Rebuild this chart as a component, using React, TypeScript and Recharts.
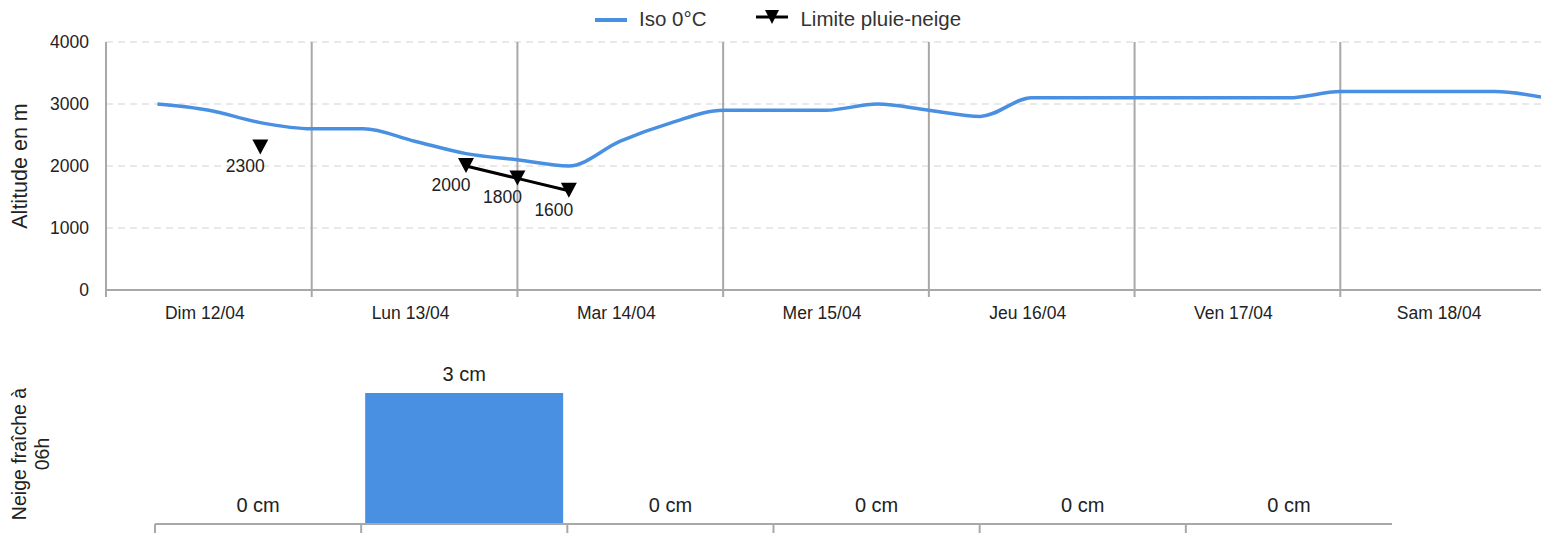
import {
  Bar,
  CartesianGrid,
  ComposedChart,
  LabelList,
  Legend,
  Line,
  LineChart,
  ReferenceLine,
  XAxis,
  YAxis,
} from "recharts";

// jours affichés sous l'axe du graphique altitude
const DAYS = ["Dim 12/04", "Lun 13/04", "Mar 14/04", "Mer 15/04", "Jeu 16/04", "Ven 17/04", "Sam 18/04"];

// heures depuis Dim 00h, pas de 6h
const HOURS = [0, 6, 12, 18, 24, 30, 36, 42, 48, 54, 60, 66, 72, 78, 84, 90, 96, 102, 108, 114, 120, 126, 132, 138, 144, 150, 156, 162, 168];

const ISO_0 = [
  null, 3000, 2900, 2700, 2600, 2600, 2400, 2200, 2100, 2000, 2400, 2700, 2900, 2900, 2900,
  3000, 2900, 2800, 3100, 3100, 3100, 3100, 3100, 3100, 3200, 3200, 3200, 3200, 3100,
];

const PLUIE_NEIGE = [
  null, null, null, 2300, null, null, null, 2000, 1800, 1600, null, null, null, null, null,
  null, null, null, null, null, null, null, null, null, null, null, null, null, null,
];

const Y_TICKS = [0, 1000, 2000, 3000, 4000];
const X_TICKS = [0, 12, 24, 36, 48, 60, 72, 84, 96, 108, 120, 132, 144, 156, 168];
const DAY_BOUNDS = [0, 24, 48, 72, 96, 120, 144];

// neige fraîche à 06h, une valeur par jour (Dim -> Ven)
const SNOW_DAYS = ["Dim 12/04", "Lun 13/04", "Mar 14/04", "Mer 15/04", "Jeu 16/04", "Ven 17/04"];
const SNOW_CM = [0, 3, 0, 0, 0, 0];

const BLUE = "#4a90e2";
const AXIS_GRAY = "#a8a8a8";
const TEXT = "#222";
const FONT = '"Liberation Sans", Arial, Helvetica, sans-serif';

const SNOW_PLOT_LEFT = 155;
const SNOW_PLOT_RIGHT = 1392;
const SNOW_BAND = (SNOW_PLOT_RIGHT - SNOW_PLOT_LEFT) / SNOW_CM.length;

const altRows = HOURS.map((h, i) => ({ hour: h, iso: ISO_0[i], pluie: PLUIE_NEIGE[i] }));
const snowRows = SNOW_DAYS.map((d, i) => ({ day: d, snow: SNOW_CM[i] }));

function DayTick(props: any) {
  const { x, y, payload } = props;
  const v = payload.value as number;
  if (v % 24 === 0) {
    return <line x1={x} x2={x} y1={y} y2={y + 7} stroke={AXIS_GRAY} strokeWidth={2} />;
  }
  return (
    <text x={x - 4} y={y + 29} textAnchor="middle" fontSize={17.5} fill={TEXT}>
      {DAYS[Math.floor(v / 24)]}
    </text>
  );
}

function SnowTick(props: any) {
  const { x, y } = props;
  const bx = x - SNOW_BAND / 2;
  return <line x1={bx} x2={bx} y1={y} y2={y + 12} stroke={AXIS_GRAY} strokeWidth={2} />;
}

function TriangleDot(props: any) {
  const { cx, cy, index } = props;
  if (cx == null || cy == null || props.value == null) return <g key={`t-${index}`} />;
  return (
    <path
      key={`t-${index}`}
      d={`M${cx - 8},${cy - 8} L${cx + 8},${cy - 8} L${cx},${cy + 7} Z`}
      fill="#000"
    />
  );
}

function PluieLabel(props: any) {
  const { x, y, value, index } = props;
  if (value == null) return null;
  return (
    <text key={`l-${index}`} x={x - 15} y={y + 19} textAnchor="middle" dominantBaseline="central" fontSize={17.5} fill={TEXT}>
      {value}
    </text>
  );
}

function SnowLabel(props: any) {
  const { x, y, value, index } = props;
  if (value == null || x == null || y == null) return null;
  return (
    <text key={`s-${index}`} x={x} y={y - 12} textAnchor="middle" fontSize={20} fill={TEXT}>
      {`${value} cm`}
    </text>
  );
}

const altTitle = () => (
  <text x={20} y={166} transform="rotate(-90 20 166)" textAnchor="middle" dominantBaseline="central" fontSize={21.5} fill={TEXT}>
    Altitude en m
  </text>
);

const snowTitle = () => (
  <g>
    <text x={19} y={114} transform="rotate(-90 19 114)" textAnchor="middle" dominantBaseline="central" fontSize={19.5} fill={TEXT}>
      Neige fraîche à
    </text>
    <text x={42} y={114} transform="rotate(-90 42 114)" textAnchor="middle" dominantBaseline="central" fontSize={19.5} fill={TEXT}>
      06h
    </text>
  </g>
);

function LegendBox() {
  return (
    <div style={{ height: 42, width: 1541 }}>
      <div style={{ height: 38, display: "flex", alignItems: "center", paddingLeft: 595, fontSize: 20.5, color: "#333" }}>
        <svg width={32} height={16} style={{ marginRight: 12 }}>
          <line x1={0} x2={32} y1={9} y2={9} stroke={BLUE} strokeWidth={4} />
        </svg>
        <span style={{ marginRight: 50 }}>Iso 0°C</span>
        <svg width={32} height={18} style={{ marginRight: 12 }}>
          <line x1={0} x2={32} y1={7} y2={7} stroke="#000" strokeWidth={3} />
          <path d="M9,0 L23,0 L16,14 Z" fill="#000" />
        </svg>
        <span>Limite pluie-neige</span>
      </div>
    </div>
  );
}

export default function App() {
  return (
    <div
      style={{
        position: "absolute",
        left: 0,
        top: 0,
        width: 1541,
        height: 533,
        overflow: "hidden",
        background: "#fff",
        fontFamily: FONT,
      }}
    >
      <div style={{ position: "absolute", left: 0, top: 0 }}>
        <LineChart width={1546} height={340} data={altRows} margin={{ top: 0, right: 0, bottom: 0, left: 0 }}>
          <Legend verticalAlign="top" align="left" height={42} content={() => <LegendBox />} wrapperStyle={{ left: 0, top: 0 }} />
          <CartesianGrid vertical={false} stroke="#e2e2e2" strokeWidth={1.5} strokeDasharray="7 5" />
          {DAY_BOUNDS.map((h) => (
            <ReferenceLine key={`d-${h}`} x={h} stroke={AXIS_GRAY} strokeWidth={2} />
          ))}
          <XAxis
            dataKey="hour"
            type="number"
            domain={[0, 168]}
            ticks={X_TICKS}
            interval={0}
            tickLine={false}
            tickSize={0}
            tickMargin={0}
            axisLine={{ stroke: AXIS_GRAY, strokeWidth: 2 }}
            height={50}
            tick={DayTick}
          />
          <YAxis
            type="number"
            domain={[0, 4000]}
            ticks={Y_TICKS}
            width={106}
            tickLine={false}
            axisLine={false}
            tickSize={0}
            tickMargin={17}
            tick={{ fontSize: 17.5, fill: TEXT }}
            label={altTitle}
          />
          <Line
            type="monotone"
            dataKey="iso"
            name="Iso 0°C"
            stroke={BLUE}
            strokeWidth={3.5}
            dot={false}
            activeDot={false}
            isAnimationActive={false}
          />
          <Line
            type="linear"
            dataKey="pluie"
            name="Limite pluie-neige"
            stroke="#000"
            strokeWidth={3}
            dot={TriangleDot}
            activeDot={false}
            isAnimationActive={false}
          >
            <LabelList dataKey="pluie" content={PluieLabel} />
          </Line>
        </LineChart>
      </div>
      <div style={{ position: "absolute", left: 0, top: 340 }}>
        <ComposedChart
          width={1541}
          height={200}
          data={snowRows}
          margin={{ top: 53, right: 1541 - SNOW_PLOT_RIGHT, bottom: 0, left: 0 }}
          barCategoryGap={4}
        >
          <XAxis
            dataKey="day"
            interval={0}
            tickLine={false}
            tickSize={0}
            tickMargin={0}
            axisLine={{ stroke: AXIS_GRAY, strokeWidth: 2 }}
            height={16}
            tick={SnowTick}
          />
          <YAxis
            type="number"
            domain={[0, 3]}
            width={SNOW_PLOT_LEFT}
            tick={false}
            tickLine={false}
            axisLine={false}
            label={snowTitle}
          />
          <Bar dataKey="snow" fill={BLUE} isAnimationActive={false} />
          {/* série invisible pour porter les étiquettes, y compris les barres à 0 */}
          <Line
            dataKey="snow"
            stroke="none"
            strokeWidth={0}
            dot={false}
            activeDot={false}
            legendType="none"
            isAnimationActive={false}
          >
            <LabelList dataKey="snow" content={SnowLabel} />
          </Line>
        </ComposedChart>
      </div>
    </div>
  );
}
